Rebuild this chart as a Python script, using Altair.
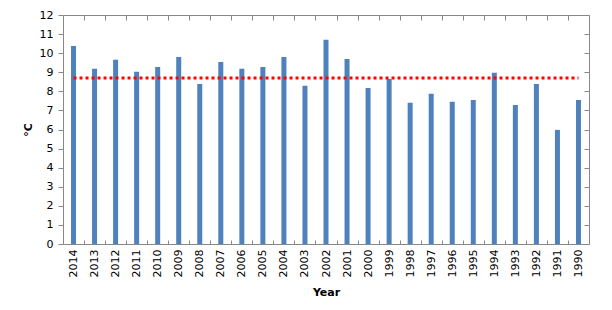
import altair as alt
import pandas as pd

years = ["2014", "2013", "2012", "2011", "2010", "2009", "2008", "2007", "2006", "2005",
         "2004", "2003", "2002", "2001", "2000", "1999", "1998", "1997", "1996", "1995",
         "1994", "1993", "1992", "1991", "1990"]
temps = [10.38, 9.18, 9.65, 9.02, 9.28, 9.80, 8.39, 9.54, 9.18, 9.28,
         9.80, 8.29, 10.70, 9.70, 8.18, 8.65, 7.40, 7.87, 7.45, 7.55,
         8.97, 7.29, 8.39, 5.98, 7.55]
mean_value = 8.70

df = pd.DataFrame({"Year": years, "temp": temps, "mean": [mean_value] * len(years)})

FONT = "DejaVu Sans"
yscale = alt.Scale(domain=[0, 12], nice=False, zero=True)
xscale = alt.Scale(paddingInner=0, paddingOuter=0)

bars = alt.Chart(df).mark_bar(color="#4F81BD", size=5).encode(
    x=alt.X("Year:N", sort=None, scale=xscale,
            axis=alt.Axis(orient="bottom", title="Year", labelAngle=-90,
                          tickBand="extent", tickSize=alt.ExprRef("-4"),
                          labelPadding=9, labelFontSize=11, labelFont=FONT,
                          labelColor="black", titleFont=FONT, titleFontSize=11,
                          titleFontWeight="bold", titleColor="black", titlePadding=10)),
    y=alt.Y("temp:Q", scale=yscale,
            axis=alt.Axis(orient="left", title="°C", values=list(range(0, 13)),
                          tickSize=5, labelPadding=5, labelFontSize=11, labelFont=FONT,
                          labelColor="black", titleFont=FONT, titleFontSize=11,
                          titleFontWeight="bold", titleColor="black", titlePadding=6,
                          grid=False)),
)

line = alt.Chart(df).mark_line(color="#FF0000", strokeDash=[3, 3], strokeWidth=3).encode(
    x=alt.X("Year:N", sort=None, scale=xscale,
            axis=alt.Axis(orient="top", title=None, labels=False, tickBand="extent",
                          tickSize=alt.ExprRef("-5"))),
    y=alt.Y("mean:Q", scale=yscale,
            axis=alt.Axis(orient="right", title=None, labels=False,
                          values=list(range(0, 13)), tickSize=alt.ExprRef("-5"),
                          grid=False)),
)

chart = alt.layer(bars, line).resolve_axis(x="independent", y="independent").properties(
    width=526, height=229,
    autosize=alt.AutoSizeParams(type="none"),
    padding={"left": 55, "top": 7, "right": 15, "bottom": 58},
).configure_axis(
    domainColor="black", tickColor="black", domainWidth=1, tickWidth=1, grid=False
).configure_view(stroke="black", strokeWidth=1).configure(background="white")

chart.save("out.html", embed_options={"renderer": "svg", "actions": False})
